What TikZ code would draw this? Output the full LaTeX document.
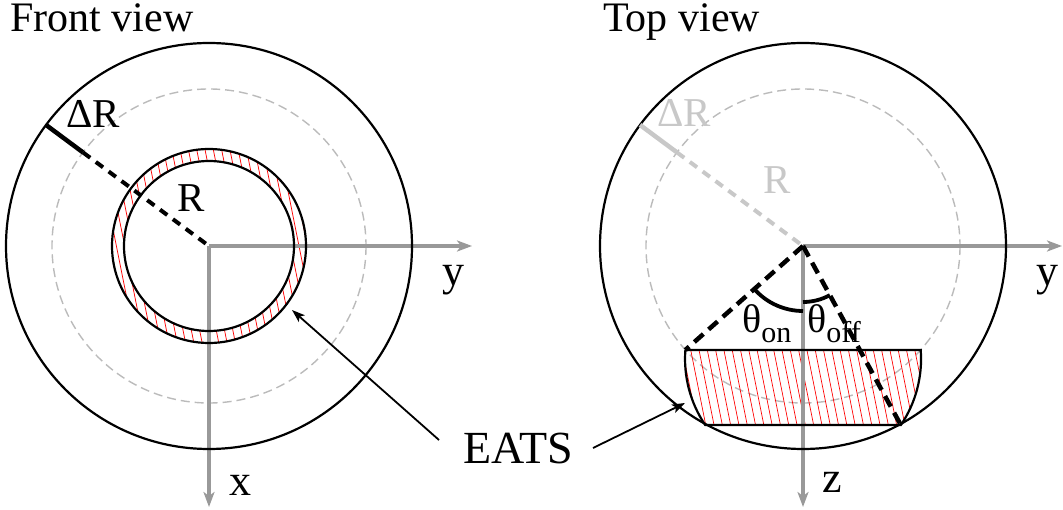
\documentclass[tikz,border=0pt]{standalone}
\usepackage{fontspec}
\setmainfont{Liberation Serif}
\usetikzlibrary{arrows.meta,calc}
\definecolor{axgray}{HTML}{999999}
\definecolor{ltgray}{HTML}{BBBBBB}
\definecolor{lblgray}{HTML}{C8C8C8}
\tikzset{
  lbl/.style={inner sep=0pt, anchor=base west},
  title/.style={lbl, font=\fontsize{42}{42}\selectfont},
  axlbl/.style={lbl, font=\fontsize{44}{44}\selectfont},
  rlbl/.style={lbl, font=\fontsize{41}{41}\selectfont},
  thlbl/.style={lbl, font=\fontsize{40}{40}\selectfont},
  shell/.style={draw=black, line width=2.2pt},
  guide/.style={draw=ltgray, line width=1.4pt, dash pattern=on 9pt off 5pt},
  axis/.style={draw=axgray, line width=3.8pt, -{Stealth[length=15pt,width=11pt,inset=4pt]}},
  hatch/.style={draw=red, line width=0.7pt},
  rad/.style={draw=black, line width=4pt, dash pattern=on 9pt off 7pt},
  thline/.style={draw=black, line width=4.5pt, dash pattern=on 12pt off 7pt},
  pointer/.style={draw=black, line width=1.8pt, -{Stealth[length=13pt,width=9pt,inset=3pt]}},
}
\begin{document}
\begin{tikzpicture}[x=1pt,y=-1pt]
\useasboundingbox (0,0) rectangle (1063,510);
\coordinate (O1) at (209,246);
\coordinate (O2) at (803,246);
\coordinate (C3) at (803,359);

% titles
\node[title] (tf) at (10,32) {Front view};
\node[title] (tt) at (603,32) {Top view};

% ---------- FRONT VIEW ----------
\draw[guide] (O1) circle[radius=157];
\begin{scope}[even odd rule]
  \clip (O1) circle[radius=97] (O1) circle[radius=85];
  \foreach \i in {0,...,40} {
    \draw[hatch] ({60+\i*8.3},130) -- ++(44,220);
  }
\end{scope}
\draw[axis] (O1) -- (472,246) coordinate (y1end);
\draw[axis] (O1) -- (209,507) coordinate (x1end);
\draw[shell] (O1) circle[radius=203];
\draw[shell] (O1) circle[radius=97];
\draw[shell] (O1) circle[radius=85];
\coordinate (dr1a) at ($(O1)+(216.6:203)$);
\coordinate (dr1b) at ($(O1)+(216.6:157)$);
\draw[black, line width=4.5pt] (dr1a) -- (dr1b);
\draw[rad] (dr1b) -- (O1);
\node[rlbl] (dRl) at (66,128) {ΔR};
\node[rlbl] (Rl) at (177,212) {R};
\node[axlbl] (yl1) at (442,286) {y};
\node[axlbl] (xl1) at (229,495) {x};

% ---------- TOP VIEW ----------
\draw[guide] (O2) circle[radius=157];
\coordinate (TL) at (685.3,350);
\coordinate (TR) at (920.7,350);
\coordinate (BR) at (900.8,425);
\coordinate (BL) at (705.2,425);
\begin{scope}
  \clip (TL) -- (TR) arc[start angle=-4.38, end angle=34.0, radius=118]
        -- (BL) arc[start angle=146.0, end angle=184.38, radius=118] -- cycle;
  \foreach \i in {0,...,40} {
    \draw[hatch] ({610+\i*8.3},320) -- ++(28,140);
  }
\end{scope}
\draw[axis] (O2) -- (1062,246) coordinate (y2end);
\draw[axis] (O2) -- (803,507) coordinate (z2end);
\draw[shell] (O2) circle[radius=203];
\draw[shell] (TL) -- (TR) arc[start angle=-4.38, end angle=34.0, radius=118]
        -- (BL) arc[start angle=146.0, end angle=184.38, radius=118] -- cycle;
\coordinate (dr2a) at ($(O2)+(216.6:203)$);
\coordinate (dr2b) at ($(O2)+(216.6:157)$);
\draw[lblgray, line width=4.5pt] (dr2a) -- (dr2b);
\draw[rad, draw=lblgray] (dr2b) -- (O2);
\node[rlbl, text=lblgray] (dRr) at (657,127) {ΔR};
\node[rlbl, text=lblgray] (Rr) at (763,194) {R};
\draw[thline] (O2) -- (TL);
\draw[thline] (O2) -- (BR);
\draw[black, line width=3.8pt] ($(O2)+(138.5:65)$) arc[start angle=138.5, end angle=90, radius=65];
\draw[black, line width=3.8pt] ($(O2)+(90:56)$) arc[start angle=90, end angle=61.35, radius=56];
\node[thlbl] (thon) at (742,333) {θ\raisebox{-10pt}{\fontsize{30}{30}\selectfont on}};
\node[thlbl] (thoff) at (807,333) {θ\raisebox{-10pt}{\fontsize{30}{30}\selectfont off}};
\node[axlbl] (yl2) at (1036,286) {y};
\node[axlbl] (zl2) at (822,492) {z};

% ---------- EATS ----------
\node[lbl, font=\fontsize{46}{46}\selectfont] (eats) at (463,463) {EATS};
\coordinate (p1s) at (439,440);
\coordinate (p1e) at (292,310);
\coordinate (p2s) at (593,448);
\coordinate (p2e) at (685,403);
\draw[pointer] (p1s) -- (p1e);
\draw[pointer] (p2s) -- (p2e);
\end{tikzpicture}
\end{document}
